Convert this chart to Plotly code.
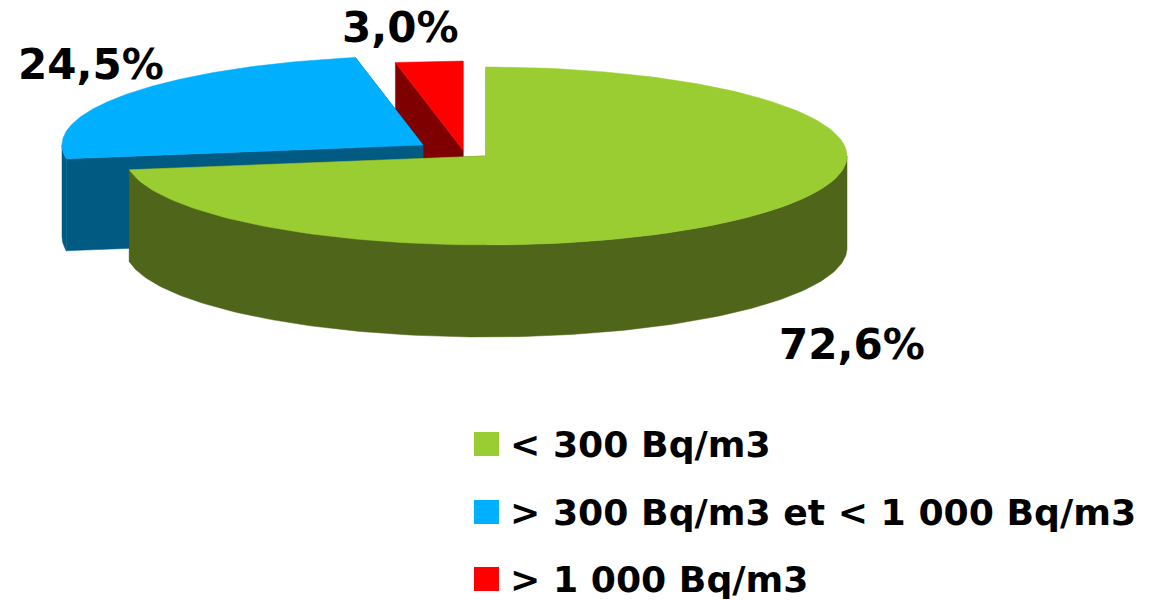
import numpy as np
import plotly.graph_objects as go

categories = ["< 300 Bq/m3", "> 300 Bq/m3 et < 1 000 Bq/m3", "> 1 000 Bq/m3"]
values = [72.6, 24.5, 3.0]
value_labels = ["72,6%", "24,5%", "3,0%"]
top_colors = ["#9ACD32", "#00B0FF", "#FF0000"]
wall_colors = ["#4E651A", "#005A82", "#7F0000"]

# Projection of the tilted pie on the page
RX, RY, DEPTH = 361, 89, 92
centers = [(486, 156), (423, 145), (463, 150)]
label_pos = [(852, 344), (91, 64), (400, 27)]
legend_y = [444, 512, 579]
FONT = "DejaVu Sans"

total = sum(values)
edges = np.concatenate([[0], np.cumsum(values)]) / total * 2 * np.pi


def rim(i, lo=None, hi=None, n=160):
    a = np.linspace(edges[i] if lo is None else lo, edges[i + 1] if hi is None else hi, n)
    cx, cy = centers[i]
    return cx + RX * np.sin(a), cy - RY * np.cos(a)


fig = go.Figure()


def poly(xs, ys, color):
    fig.add_trace(go.Scatter(x=xs, y=ys, mode="lines", fill="toself", fillcolor=color,
                             line=dict(color=color, width=0.5), hoverinfo="skip", showlegend=False))


# painted back to front: red, blue, green
for i in [2, 1, 0]:
    cx, cy = centers[i]
    x, y = rim(i)
    # the two cut faces
    for k in (0, -1):
        poly([cx, x[k], x[k], cx, cx], [cy, y[k], y[k] + DEPTH, cy + DEPTH, cy], wall_colors[i])
    # outer wall: only the part of the rim that faces the viewer
    lo, hi = max(edges[i], np.pi / 2), min(edges[i + 1], 3 * np.pi / 2)
    if hi > lo:
        wx, wy = rim(i, lo, hi)
        poly(np.r_[wx, wx[::-1], wx[0]], np.r_[wy, wy[::-1] + DEPTH, wy[0]], wall_colors[i])
    # top face
    poly(np.r_[cx, x, cx], np.r_[cy, y, cy], top_colors[i])

annotations = []
for (lx, ly), t in zip(label_pos, value_labels):
    annotations.append(dict(x=lx, y=ly, xref="x", yref="y", text=t, showarrow=False,
                            font=dict(family=FONT, size=42, color="black", weight="bold"),
                            xanchor="center", yanchor="middle"))
shapes = []
for ly, cat, col in zip(legend_y, categories, top_colors):
    shapes.append(dict(type="rect", xref="x", yref="y", x0=474, x1=499, y0=ly - 12, y1=ly + 12,
                       fillcolor=col, line=dict(width=0), layer="above"))
    annotations.append(dict(x=508, y=ly, xref="x", yref="y", text=cat.replace("<", "&lt;"), showarrow=False,
                            font=dict(family=FONT, size=36.2, color="black", weight="bold"),
                            xanchor="left", yanchor="middle"))

fig.update_layout(
    width=1151, height=600, autosize=False,
    margin=dict(l=0, r=0, t=0, b=0),
    paper_bgcolor="white", plot_bgcolor="white",
    showlegend=False,
    xaxis=dict(range=[0, 1151], visible=False, fixedrange=True),
    yaxis=dict(range=[600, 0], visible=False, fixedrange=True),
    annotations=annotations, shapes=shapes,
)
fig.write_html("out.html", config={"displayModeBar": False},
               post_script="document.body.style.margin='0';document.body.style.overflow='hidden';")
